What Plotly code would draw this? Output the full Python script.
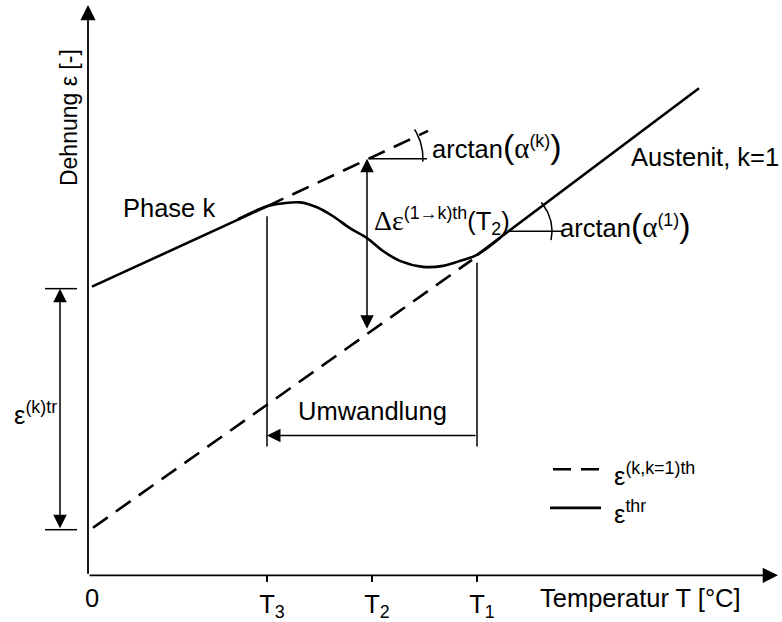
import numpy as np
import plotly.graph_objects as go

# Schematic strain–temperature diagram (arbitrary units, origin at T = 0)
T3, T2, T1 = 179, 284, 389
tick_vals = [T3, T2, T1]
tick_text = ["T<sub>3</sub>", "T<sub>2</sub>", "T<sub>1</sub>"]

# total strain ε^thr: phase k branch, transformation range, austenite branch
phase_k_T = [4, 179]
phase_k_eps = [291, 372]
trans_T = [150, 179, 195, 212, 229, 245, 262, 279, 295, 312, 335, 355, 375, 389, 412]
trans_eps = [359, 372, 375, 376, 371, 362, 350, 340, 327, 317, 311, 312, 318, 323, 340]
aust_T = [389, 611]
aust_eps = [323, 491]

# thermal strain of the pure phases (dashed)
phase_k_th_T = [179, 340]
phase_k_th_eps = [372, 448]
aust_th_T = [5, 384]
aust_th_eps = [48, 318]

# strain markers
eps_tr_top, eps_tr_bottom = 289, 46
d_eps_T = 279
d_eps_top, d_eps_bottom = 420, 247
T3_line = [362, 130]
T1_line = [315, 130]
umw_level = 141

FONT = "Liberation Sans, Arial, sans-serif"
SERIF = "Liberation Serif"
BLACK = "black"
DASH = "18px,10px"
FS = 25.5

fig = go.Figure()

def line(x, y, width=2.6, dash="solid", shape="linear"):
    fig.add_trace(go.Scatter(x=x, y=y, mode="lines", cliponaxis=False,
                             line=dict(color=BLACK, width=width, dash=dash,
                                       shape=shape, smoothing=1.0),
                             showlegend=False, hoverinfo="skip"))

def arc(cx, cy, r, a0, a1, width=1.5):
    a = np.radians(np.linspace(a0, a1, 30))
    line(list(cx + r * np.cos(a)), list(cy + r * np.sin(a)), width=width)

line(phase_k_T, phase_k_eps)
line(trans_T, trans_eps, shape="spline")
line(aust_T, aust_eps)
line(phase_k_th_T, phase_k_th_eps, dash=DASH)
line(aust_th_T, aust_th_eps, dash=DASH)

# transformation range boundaries
line([T3, T3], T3_line, width=1.5)
line([T1, T1], T1_line, width=1.5)

# angle markers
line([d_eps_T + 3, 339], [d_eps_top, d_eps_top], width=1.5)
arc(d_eps_T, d_eps_top, 56, -3, 32)
line([420, 474], [347, 347], width=1.5)
arc(420, 347, 44, -12, 41)

# ε^(k)tr end ticks
line([-43, -11], [eps_tr_top, eps_tr_top], width=1.5)
line([-43, -11], [eps_tr_bottom, eps_tr_bottom], width=1.5)

annotations = []

def arrow(x0, y0, x1, y1, both=False, width=1.5, size=1.8):
    annotations.append(dict(
        x=x1, y=y1, ax=x0, ay=y0, xref="x", yref="y", axref="x", ayref="y",
        text="", showarrow=True, arrowhead=2, arrowsize=size, arrowwidth=width,
        arrowcolor=BLACK, standoff=0, startstandoff=0,
        arrowside="end+start" if both else "end",
        startarrowhead=2, startarrowsize=size))

# coordinate axes
arrow(0, 0, 690, 0, width=1.8, size=1.7)
arrow(0, 0, 0, 575, width=1.8, size=1.7)

arrow(d_eps_T, d_eps_bottom, d_eps_T, d_eps_top, both=True)
arrow(-28, eps_tr_bottom, -28, eps_tr_top, both=True)
arrow(T1, umw_level, T3, umw_level)

def label(x, y, text, xanchor="left", size=FS, angle=0):
    annotations.append(dict(x=x, y=y, xref="x", yref="y", text=text,
                            showarrow=False, xanchor=xanchor, yanchor="middle",
                            textangle=angle,
                            font=dict(family=FONT, size=size, color=BLACK)))

big = "<span style='font-size:34px'>{}</span>"
alpha = f"<span style='font-family:{SERIF};font-size:29px'>α</span>"

label(-19, 461, "Dehnung ε [-]", xanchor="center", size=23, angle=-90)
label(-76, 164, "ε<sup>(k)tr</sup>")
label(81, 370, "Phase k", xanchor="center")
label(342, 433, "arctan" + big.format("(") + alpha + "<sup>(k)</sup>" + big.format(")"))
label(284, 357, f"<span style='font-family:{SERIF};font-size:28px'>Δε</span>"
                "<sup>(1→k)th</sup>(T<sub>2</sub>)")
label(541, 422, "Austenit, k=1")
label(470, 353, "arctan" + big.format("(") + alpha + "<sup>(1)</sup>" + big.format(")"))
label(284, 166, "Umwandlung", xanchor="center")
label(3.5, -23, "0", xanchor="center")
label(450, -23, "Temperatur T [°C]")

# legend
label(524, 102, "ε<sup>(k,k=1)th</sup>")
label(524, 64, "ε<sup>thr</sup>")
shapes = [
    dict(type="line", xref="x", yref="y", x0=465, x1=515, y0=107, y1=107,
         line=dict(color=BLACK, width=2.6, dash=DASH)),
    dict(type="line", xref="x", yref="y", x0=462, x1=513, y0=68, y1=68,
         line=dict(color=BLACK, width=2.6)),
]

fig.update_layout(
    width=782, height=622,
    margin=dict(l=0, r=0, t=0, b=0),
    paper_bgcolor="white", plot_bgcolor="white",
    font=dict(family=FONT, size=FS, color=BLACK),
    annotations=annotations, shapes=shapes,
    xaxis=dict(range=[-88, 694], anchor="free", position=42 / 622,
               showline=False, showgrid=False, zeroline=False,
               tickmode="array", tickvals=tick_vals, ticktext=tick_text,
               ticks="outside", ticklen=6, tickwidth=1.5, tickcolor=BLACK,
               ticklabelshift=5,
               tickfont=dict(family=FONT, size=FS, color=BLACK)),
    yaxis=dict(range=[-42, 580], visible=False, showgrid=False, zeroline=False),
)

fig.write_html("out.html")
